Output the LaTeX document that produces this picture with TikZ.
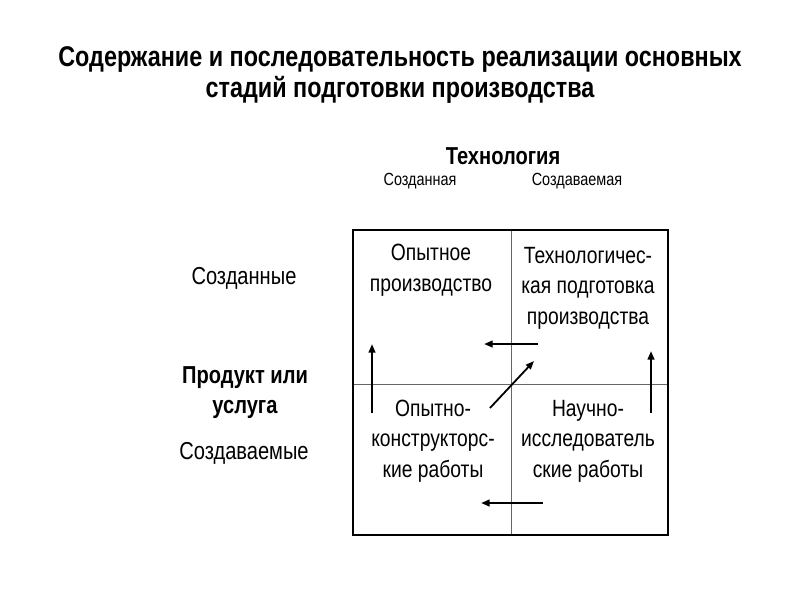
\documentclass[tikz,border=0pt]{standalone}
\usepackage{fontspec}
\setmainfont{Liberation Sans}[FakeStretch=0.82]
\usetikzlibrary{arrows.meta}
\begin{document}
\begin{tikzpicture}[x=1pt,y=-1pt,
  lbl/.style={inner sep=0pt, align=center, font=\fontsize{23.5}{30.5}\selectfont},
  rowlbl/.style={inner sep=0pt, align=center, font=\fontsize{24.5}{30}\selectfont},
  sub/.style={inner sep=0pt, font=\fontsize{17.6}{20}\selectfont},
  hdr/.style={inner sep=0pt, align=center, font=\fontsize{24.5}{30}\selectfont\bfseries},
  ttl/.style={inner sep=0pt, align=center, font=\fontsize{28.5}{31}\selectfont\bfseries},
  grid/.style={draw=black!60, line width=0.9pt},
  frame/.style={draw=black, line width=2pt},
  arr/.style={-{Triangle[length=8.5pt,width=6.5pt]}, line width=2.2pt}]
\useasboundingbox (0,0) rectangle (800,600);
% title
\node[ttl] (title) at (400,75) {Содержание и последовательность реализации основных\\стадий подготовки производства};
% column header
\node[hdr] (tech) at (503,156) {Технология};
\node[sub] (col1) at (420,181) {Созданная};
\node[sub] (col2) at (577,181) {Создаваемая};
% row headers
\node[rowlbl] (row1) at (244,278) {Созданные};
\node[hdr] (prod) at (245,393) {Продукт или\\услуга};
\node[rowlbl] (row2) at (244,453) {Создаваемые};
% grid
\coordinate (tl) at (353,230);
\coordinate (br) at (668,535);
\coordinate (mt) at (511,230);
\coordinate (mb) at (511,535);
\coordinate (ml) at (353,384);
\coordinate (mr) at (668,384);
\draw[grid] (mt) -- (mb);
\draw[grid] (ml) -- (mr);
\draw[frame] (tl) rectangle (br);
% cells
\node[lbl] (c11) at (431,270) {Опытное\\производство};
\node[lbl] (c12) at (588,288) {Технологичес-\\кая подготовка\\производства};
\node[lbl] (c21) at (433,441) {Опытно-\\конструкторс-\\кие работы};
\node[lbl] (c22) at (588,441) {Научно-\\исследователь\\ские работы};
% arrows
\coordinate (a1s) at (372,413); \coordinate (a1e) at (372,344);
\coordinate (a2s) at (538,344); \coordinate (a2e) at (484,344);
\coordinate (a3s) at (490,408); \coordinate (a3e) at (534,361);
\coordinate (a4s) at (651,413); \coordinate (a4e) at (651,351);
\coordinate (a5s) at (543,503); \coordinate (a5e) at (481,503);
\draw[arr] (a1s) -- (a1e);
\draw[arr] (a2s) -- (a2e);
\draw[arr, line width=1.8pt] (a3s) -- (a3e);
\draw[arr] (a4s) -- (a4e);
\draw[arr] (a5s) -- (a5e);
\end{tikzpicture}
\end{document}
